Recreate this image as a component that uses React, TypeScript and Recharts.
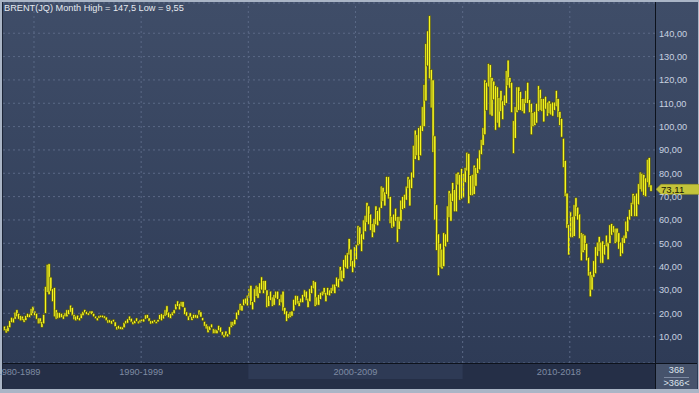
import { ComposedChart, Bar, XAxis, YAxis, CartesianGrid, ReferenceLine } from "recharts"

const title = "BRENT(JQ) Month High = 147,5 Low = 9,55"

// first bar is Sep 1988, one bar per month up to Nov 2018
const firstYear = 1988
const firstMonth = 9

// monthly lows, one row per year
const monthLows: number[] = [
  12.6, 11.6, 12.2, 13.9,
  16.0, 15.9, 17.5, 18.5, 17.5, 16.8, 17.0, 16.2, 17.0, 18.3, 18.2, 19.0,
  19.9, 19.0, 17.5, 15.5, 15.6, 14.0, 15.5, 20.0, 29.0, 28.0, 29.5, 25.0,
  18.5, 17.5, 17.8, 18.0, 18.2, 17.5, 18.5, 18.5, 19.5, 20.5, 19.0, 17.3,
  16.8, 17.3, 16.8, 17.8, 19.0, 20.2, 19.5, 19.2, 19.8, 19.5, 18.5, 17.7,
  16.8, 17.9, 18.3, 18.1, 17.8, 16.8, 15.8, 15.9, 15.4, 16.3, 14.3, 12.9,
  13.3, 13.1, 13.0, 13.8, 15.5, 15.8, 17.0, 16.2, 15.2, 15.6, 16.5, 15.5,
  15.9, 16.5, 16.3, 17.5, 17.8, 16.6, 15.4, 15.6, 16.2, 15.6, 16.3, 17.3,
  16.8, 17.6, 18.8, 19.2, 18.2, 17.8, 19.0, 19.8, 21.5, 23.0, 21.5, 22.8,
  22.6, 19.5, 18.8, 17.0, 18.3, 17.0, 17.8, 18.0, 17.8, 19.3, 18.4, 16.8,
  14.5, 13.3, 11.7, 12.8, 13.8, 11.3, 11.4, 11.3, 12.6, 11.9, 10.5, 9.55,
  10.3, 9.9, 10.8, 13.9, 14.6, 15.1, 17.3, 19.2, 21.2, 21.0, 23.3, 24.0,
  23.2, 26.5, 23.5, 21.5, 24.7, 27.3, 26.5, 28.5, 30.0, 28.5, 29.8, 22.5,
  23.0, 25.5, 23.0, 23.5, 26.5, 26.0, 23.3, 24.5, 21.0, 19.5, 16.6, 17.8,
  18.2, 18.8, 21.0, 23.5, 24.0, 23.0, 24.5, 24.6, 27.0, 25.5, 22.5, 25.0,
  28.5, 30.5, 23.0, 23.5, 23.5, 26.0, 27.5, 28.0, 25.0, 27.8, 27.5, 28.5,
  29.5, 28.5, 31.5, 31.0, 34.0, 33.5, 35.0, 39.5, 39.0, 45.0, 40.0, 37.5,
  39.5, 43.0, 49.0, 49.5, 46.5, 51.5, 55.0, 59.0, 58.0, 55.5, 52.5, 54.5,
  58.0, 57.5, 59.5, 65.0, 68.0, 66.0, 71.0, 69.0, 58.5, 56.5, 57.0, 59.5,
  50.5, 56.0, 59.5, 64.5, 65.0, 68.5, 73.5, 66.0, 73.5, 78.0, 86.0, 87.5,
  85.5, 87.5, 98.0, 100.0, 111.0, 126.0, 120.5, 108.0, 89.0, 60.0, 47.0, 36.2,
  39.5, 39.0, 40.0, 48.5, 50.5, 61.0, 59.5, 68.0, 63.5, 63.5, 75.0, 68.5,
  69.0, 69.5, 76.0, 81.0, 67.0, 70.5, 70.5, 71.0, 74.5, 80.0, 81.5, 88.0,
  92.0, 96.5, 107.0, 117.0, 105.0, 104.5, 111.5, 98.5, 101.5, 99.5, 106.5, 103.0,
  109.0, 110.0, 117.5, 116.5, 106.0, 88.5, 95.0, 106.0, 107.0, 107.0, 106.5, 105.5,
  110.0, 110.0, 106.0, 96.5, 100.0, 100.5, 101.5, 106.5, 107.0, 106.5, 102.0, 107.5,
  104.5, 105.5, 105.0, 104.5, 107.0, 108.5, 104.0, 100.5, 95.5, 82.5, 70.0, 56.5,
  45.0, 52.5, 52.5, 53.0, 61.5, 60.0, 52.0, 42.5, 46.0, 47.0, 42.5, 36.0,
  27.1, 30.0, 35.5, 37.0, 44.5, 46.5, 41.5, 41.5, 45.0, 48.5, 43.0, 50.0,
  53.5, 54.5, 50.0, 50.5, 47.5, 44.4, 45.5, 50.0, 52.0, 55.0, 60.0, 61.5,
  66.5, 61.5, 61.5, 66.5, 73.0, 72.0, 70.5, 70.0, 76.0, 74.0, 72.3,
]

// monthly highs, one row per year
const monthHighs: number[] = [
  14.5, 13.5, 14.8, 16.8,
  18.3, 18.0, 20.5, 21.5, 20.0, 19.0, 18.8, 17.8, 19.0, 20.0, 19.7, 22.0,
  23.0, 21.0, 20.0, 18.0, 18.0, 16.5, 19.5, 31.5, 41.0, 41.2, 35.5, 30.5,
  31.0, 21.5, 20.5, 20.3, 20.0, 19.3, 20.2, 21.5, 21.5, 23.5, 22.5, 19.5,
  18.8, 19.2, 18.2, 20.0, 20.8, 21.6, 20.8, 20.3, 21.0, 21.0, 20.0, 18.8,
  18.1, 19.0, 19.2, 19.2, 18.9, 18.4, 17.2, 17.2, 16.9, 17.4, 16.3, 14.4,
  14.8, 14.3, 14.2, 16.1, 16.9, 17.6, 18.8, 17.9, 16.5, 17.0, 18.0, 16.7,
  17.2, 17.5, 17.6, 19.3, 19.4, 18.0, 16.8, 16.8, 17.2, 16.6, 17.3, 19.4,
  19.8, 19.5, 21.5, 23.2, 20.5, 19.8, 20.6, 21.5, 24.0, 25.3, 24.3, 25.0,
  25.0, 22.6, 20.6, 18.9, 20.2, 18.6, 19.5, 19.4, 19.3, 21.4, 20.6, 18.1,
  16.5, 15.4, 14.6, 14.5, 15.4, 13.4, 13.2, 12.9, 14.8, 14.1, 12.2, 11.0,
  12.4, 11.2, 14.3, 16.5, 16.5, 17.4, 20.5, 21.5, 24.2, 23.5, 26.1, 26.5,
  27.8, 30.5, 32.0, 25.0, 30.5, 32.0, 31.5, 33.0, 35.6, 34.0, 34.0, 30.0,
  27.5, 29.5, 27.0, 28.0, 29.5, 29.5, 26.2, 28.2, 29.5, 22.5, 21.0, 20.0,
  20.7, 21.0, 26.0, 27.7, 27.5, 25.5, 26.5, 28.0, 30.0, 29.5, 26.5, 30.5,
  32.0, 34.0, 33.5, 27.0, 28.0, 29.0, 29.5, 31.0, 29.0, 31.0, 30.0, 31.0,
  32.5, 32.5, 35.5, 35.0, 40.0, 38.5, 43.0, 45.0, 46.0, 52.0, 47.5, 42.5,
  48.5, 49.5, 57.5, 57.0, 54.0, 60.0, 62.0, 67.5, 66.0, 62.5, 58.5, 60.5,
  66.0, 64.0, 65.5, 74.5, 74.0, 72.0, 78.6, 78.5, 70.0, 61.5, 62.5, 65.0,
  61.5, 61.5, 68.5, 70.0, 71.0, 74.5, 78.5, 77.5, 80.5, 92.0, 98.5, 96.5,
  99.5, 100.5, 108.5, 118.0, 135.5, 141.0, 147.5, 124.5, 120.0, 96.0, 66.5, 54.0,
  50.0, 47.5, 54.5, 54.0, 66.0, 72.5, 71.5, 76.0, 73.0, 80.0, 80.5, 79.5,
  82.0, 80.0, 82.5, 89.0, 88.5, 79.0, 79.5, 83.5, 82.5, 86.5, 90.0, 94.5,
  99.5, 120.0, 119.0, 127.0, 126.5, 121.0, 119.5, 117.5, 117.0, 112.5, 115.5, 111.0,
  113.5, 124.0, 128.5, 121.0, 119.0, 102.5, 108.5, 117.0, 117.0, 115.0, 112.0, 112.0,
  115.5, 119.0, 111.5, 110.0, 106.0, 106.5, 110.0, 117.5, 116.0, 112.0, 112.0, 113.0,
  110.5, 111.0, 110.0, 110.5, 110.5, 115.5, 112.0, 106.5, 103.5, 95.0, 85.5, 71.5,
  58.0, 63.5, 61.5, 66.5, 69.5, 65.5, 62.5, 54.5, 54.0, 53.5, 50.0, 44.0,
  38.0, 36.5, 42.5, 48.5, 50.5, 52.9, 50.5, 51.0, 49.5, 53.5, 50.5, 57.9,
  58.4, 57.5, 56.5, 56.5, 54.5, 50.5, 52.5, 53.5, 59.5, 61.5, 64.5, 67.5,
  71.3, 70.5, 71.5, 75.5, 80.5, 80.0, 79.5, 78.0, 86.0, 86.7, 75.0,
]

const priceTicks = [10, 20, 30, 40, 50, 60, 70, 80, 90, 100, 110, 120, 130, 140]
const gridYears = [1990, 1995, 2000, 2005, 2010, 2015]
const decadeLabels = ["1980-1989", "1990-1999", "2000-2009", "2010-2018"]
const decadeBreaks = [1990, 2000, 2010]
const shadedDecade = "2000-2009"
const lastClose = 73.11
const totalBars = 368
const shownBars = 366

const X_DOMAIN: [number, number] = [-0.85, 364.2]
const Y_DOMAIN: [number, number] = [-1.29, 152.96]
const FONT = "'Liberation Sans', Arial, sans-serif"

const monthIndex = (year: number) => (year - firstYear) * 12 - (firstMonth - 1)

const data = monthLows.map((low, i) => ({ i, range: [low, monthHighs[i]] }))

const bandEdges = [X_DOMAIN[0], ...decadeBreaks.map((y) => monthIndex(y) + 0.5), X_DOMAIN[1]]
const bandCenters = decadeLabels.map((_, k) => (bandEdges[k] + bandEdges[k + 1]) / 2)
const fmt = (v: number) => v.toFixed(2).replace(".", ",")

const BarShape = (props: any) => {
  const { x, y, width, height } = props
  if (x == null || y == null || height == null) return null
  const top = Math.min(y, y + height)
  const h = Math.max(Math.abs(height), 1)
  const cx = x + width / 2
  return (
    <rect x={cx - 1.1} y={top} width={2.2} height={h} fill="#f7f71e" stroke="#4a4a10" strokeWidth={0.6} />
  )
}

const DecadeTick = (props: any) => {
  const { x, y, payload } = props
  const k = bandCenters.findIndex((c) => Math.abs(c - payload.value) < 1e-6)
  if (k < 0) return null
  const pxPerUnit = 652 / (X_DOMAIN[1] - X_DOMAIN[0])
  const bw = (bandEdges[k + 1] - bandEdges[k]) * pxPerUnit
  const shaded = decadeLabels[k] === shadedDecade
  return (
    <g>
      {shaded && <rect x={x - bw / 2} y={y + 1} width={bw} height={15} fill="#2e3a55" />}
      <text x={x} y={y + 12} textAnchor="middle" fill="#7f8ba3" fontSize={9.2} fontFamily={FONT}>
        {decadeLabels[k]}
      </text>
    </g>
  )
}

const PriceTick = (props: any) => {
  const { x, y, payload } = props
  return (
    <text x={x} y={y + 3.3} textAnchor="start" fill="#c9d2e0" fontSize={9.2} fontFamily={FONT}>
      {fmt(payload.value)}
    </text>
  )
}

const PriceFlag = (props: any) => {
  const vb = props.viewBox || {}
  const x0 = (vb.x || 0) + (vb.width || 0) + 1
  const yc = vb.y || 0
  const pts = `${x0},${yc} ${x0 + 5},${yc - 5} ${x0 + 44},${yc - 5} ${x0 + 44},${yc + 5} ${x0 + 5},${yc + 5}`
  return (
    <g>
      <polygon points={pts} fill="#c4c43a" stroke="#9a9a24" strokeWidth={0.6} />
      <text x={x0 + 5} y={yc + 3.4} fill="#15150a" fontSize={9.6} fontFamily={FONT}>
        {fmt(lastClose)}
      </text>
    </g>
  )
}

export default function App() {
  return (
    <div style={{ position: "absolute", left: 0, top: 0, width: 699, height: 393, background: "#aab5c6", overflow: "hidden" }}>
      <div
        style={{
          position: "absolute", left: 2, top: 2, width: 695, height: 387,
          background: "linear-gradient(#3f4d68, #2d3a55)",
          borderLeft: "1px solid #1c2436",
        }}
      />
      <div style={{ position: "absolute", left: 3, top: 364, width: 652, height: 25, background: "#252f47" }} />
      <div style={{ position: "absolute", left: 656, top: 364, width: 41, height: 25, background: "#46536c" }} />

      <div style={{ position: "absolute", left: 0, top: 0 }}>
        <ComposedChart width={699} height={393} data={data} margin={{ top: 3, right: 0, bottom: 0, left: 3 }}>
          <CartesianGrid vertical={false} stroke="#5b6986" strokeDasharray="2 3" />
          {gridYears.map((yr) => (
            <ReferenceLine key={yr} x={monthIndex(yr) + 0.5} stroke="#5b6986" strokeDasharray="2 3" />
          ))}
          <XAxis
            type="number"
            dataKey="i"
            domain={X_DOMAIN}
            allowDataOverflow
            ticks={bandCenters}
            interval={0}
            tick={<DecadeTick />}
            axisLine={false}
            tickLine={false}
            tickSize={0}
            tickMargin={0}
            height={30}
          />
          <YAxis
            orientation="right"
            domain={Y_DOMAIN}
            allowDataOverflow
            ticks={priceTicks}
            interval={0}
            tick={<PriceTick />}
            axisLine={false}
            tickLine={false}
            tickSize={0}
            tickMargin={4}
            width={44}
          />
          <Bar dataKey="range" barSize={2} shape={<BarShape />} isAnimationActive={false} />
          <ReferenceLine y={lastClose} stroke="none" label={PriceFlag} />
        </ComposedChart>
      </div>

      <div style={{ position: "absolute", left: 655, top: 2, width: 1, height: 387, background: "#0d121c" }} />
      <div style={{ position: "absolute", left: 3, top: 363, width: 694, height: 1, background: "#0d121c" }} />

      <div
        style={{
          position: "absolute", left: 4, top: 2, color: "#e6eaf0",
          fontFamily: FONT, fontSize: 9.2, whiteSpace: "nowrap", lineHeight: "12px",
        }}
      >
        {title}
      </div>

      <div
        style={{
          position: "absolute", left: 656, top: 365, width: 41, textAlign: "center",
          fontFamily: FONT, fontSize: 9.2, color: "#dde3ec", lineHeight: "11px",
        }}
      >
        <div style={{ borderBottom: "1px solid #7e8ba2", margin: "0 8px", paddingBottom: 1 }}>{totalBars}</div>
        <div>&gt;{shownBars}&lt;</div>
      </div>
    </div>
  )
}
